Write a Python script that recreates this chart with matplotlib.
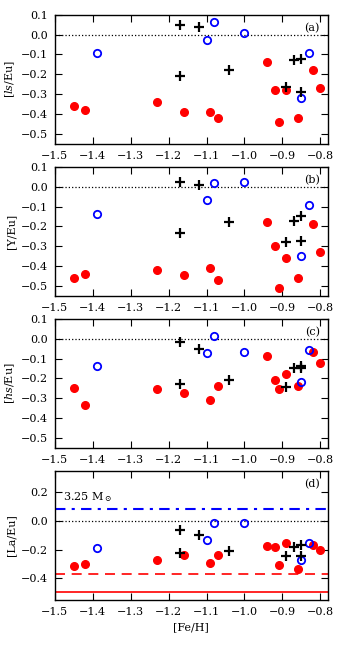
import matplotlib
matplotlib.use("Agg")
import matplotlib.pyplot as plt
import numpy as np

# [Fe/H] of the three star groups (same stars in every panel)
fe_red = [-1.45, -1.42, -1.23, -1.16, -1.09, -1.07, -0.94, -0.92, -0.91, -0.89, -0.86, -0.82, -0.80]
fe_blue = [-1.39, -1.10, -1.08, -1.00, -0.85, -0.83]
fe_black = [-1.17, -1.17, -1.12, -1.04, -0.89, -0.87, -0.85, -0.85]

# (a) [ls/Eu]
ls_red = [-0.36, -0.38, -0.34, -0.39, -0.39, -0.42, -0.14, -0.28, -0.44, -0.28, -0.42, -0.18, -0.27]
ls_blue = [-0.09, -0.025, 0.065, 0.01, -0.32, -0.09]
ls_black = [0.05, -0.21, 0.04, -0.18, -0.265, -0.13, -0.125, -0.29]

# (b) [Y/Eu]
y_red = [-0.46, -0.44, -0.42, -0.445, -0.41, -0.47, -0.18, -0.30, -0.51, -0.36, -0.46, -0.19, -0.33]
y_blue = [-0.14, -0.065, 0.02, 0.025, -0.35, -0.09]
y_black = [0.025, -0.235, 0.01, -0.18, -0.28, -0.175, -0.15, -0.275]

# (c) [hs/Eu]
hs_red = [-0.25, -0.335, -0.255, -0.275, -0.31, -0.24, -0.085, -0.21, -0.255, -0.18, -0.24, -0.065, -0.12]
hs_blue = [-0.135, -0.07, 0.015, -0.065, -0.22, -0.055]
hs_black = [-0.015, -0.23, -0.05, -0.21, -0.245, -0.145, -0.135, -0.145]

# (d) [La/Eu]
la_red = [-0.315, -0.30, -0.27, -0.235, -0.295, -0.24, -0.175, -0.18, -0.31, -0.15, -0.335, -0.165, -0.20]
la_blue = [-0.185, -0.13, -0.01, -0.015, -0.27, -0.15]
la_black = [-0.065, -0.22, -0.095, -0.21, -0.245, -0.18, -0.17, -0.245]

# model lines in panel (d)
la_model_325 = 0.086
la_red_dashed = -0.372
la_red_solid = -0.495

plt.rcParams['font.family'] = ['DejaVu Serif']
plt.rcParams['mathtext.fontset'] = 'dejavuserif'
plt.rcParams['font.size'] = 8

fig, axes = plt.subplots(4, 1, figsize=(3.43, 6.45), dpi=100)
fig.subplots_adjust(left=0.16, right=0.956, top=0.977, bottom=0.07, hspace=0.18)

panels = [
    (ls_red, ls_blue, ls_black, r'[$ls$/Eu]', '(a)'),
    (y_red, y_blue, y_black, '[Y/Eu]', '(b)'),
    (hs_red, hs_blue, hs_black, r'[$hs$/Eu]', '(c)'),
    (la_red, la_blue, la_black, '[La/Eu]', '(d)'),
]

for i, (ax, (r, b, k, lab, tag)) in enumerate(zip(axes, panels)):
    ax.axhline(0, color='k', ls=':', lw=0.9, zorder=1)
    ax.plot(fe_red, r, 'o', color='red', mec='red', ms=5.5, zorder=3)
    ax.plot(fe_blue, b, 'o', mfc='none', mec='blue', mew=1.3, ms=5.3, zorder=4)
    ax.plot(fe_black, k, '+', color='k', mew=1.6, ms=7.5, zorder=5)
    ax.set_xlim(-1.5, -0.78)
    ax.set_xticks(np.arange(-1.5, -0.79, 0.1))
    ax.set_ylabel(lab, labelpad=3)
    ax.text(0.97, 0.9, tag, transform=ax.transAxes, ha='right', va='center')
    ax.tick_params(direction='in', top=True, right=True, length=5, width=0.8, pad=5)
    for s in ax.spines.values():
        s.set_linewidth(1.0)
    if i < 3:
        ax.set_ylim(-0.55, 0.1)
        ax.set_yticks(np.arange(-0.5, 0.11, 0.1))
    else:
        ax.set_ylim(-0.55, 0.35)
        ax.set_yticks([-0.4, -0.2, 0.0, 0.2])
        ax.axhline(la_model_325, color='blue', ls='-.', lw=1.5, dashes=(5, 3, 1.5, 3), zorder=2)
        ax.axhline(la_red_dashed, color='red', ls='--', lw=1.2, dashes=(6, 4), zorder=2)
        ax.axhline(la_red_solid, color='red', ls='-', lw=1.2, zorder=2)
        ax.text(0.03, 0.8, r'3.25 M$_\odot$', transform=ax.transAxes, ha='left', va='center')
        ax.set_xlabel('[Fe/H]')
    ax.set_xticklabels([f'{v:.1f}'.replace('-', '\u2212') for v in ax.get_xticks()])
    ax.set_yticklabels([f'{v:.1f}'.replace('-', '\u2212') if abs(v) > 1e-9 else '0.0' for v in ax.get_yticks()])

fig.savefig('out.png', dpi=100)
